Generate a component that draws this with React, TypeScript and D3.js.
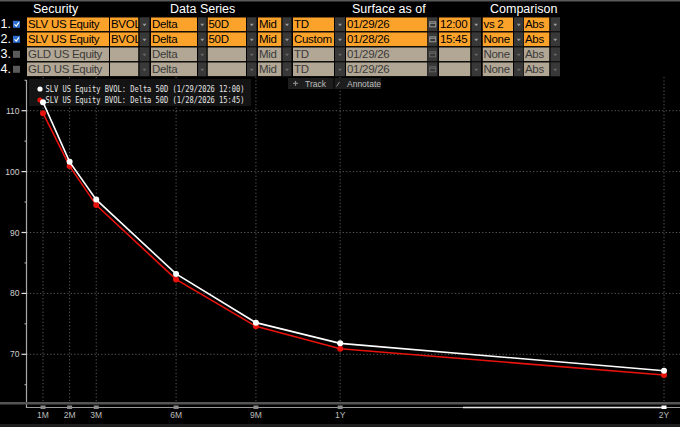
import React from 'react'
import * as d3 from 'd3'

// term structure, days to expiry for each tenor
const tenors = ['1M', '2M', '3M', '6M', '9M', '1Y', '2Y']
const tenorDays = [30, 60, 90, 180, 270, 365, 730]

// SLV BVOL delta 50D
const volJan29 = [111.4, 101.6, 95.4, 83.2, 75.2, 71.8, 67.3]
const volJan28 = [109.6, 100.9, 94.5, 82.3, 74.6, 70.9, 66.6]

const yTicks = [70, 80, 90, 100, 110]
const yMinorTicks = [65, 75, 85, 95, 105, 115]

const legendLabels = [
  'SLV US Equity BVOL: Delta 50D (1/29/2026 12:00)',
  'SLV US Equity BVOL: Delta 50D (1/28/2026 15:45)',
]

// header table
const headers = ['Security', 'Data Series', 'Surface as of', 'Comparison']
const rowSecurity = ['SLV US Equity', 'SLV US Equity', 'GLD US Equity', 'GLD US Equity']
const rowSource = ['BVOL', 'BVOL', '', '']
const rowType = ['Delta', 'Delta', 'Delta', 'Delta']
const rowPoint = ['50D', '50D', '', '']
const rowSide = ['Mid', 'Mid', 'Mid', 'Mid']
const rowMode = ['TD', 'Custom', 'TD', 'TD']
const rowDate = ['01/29/26', '01/28/26', '01/29/26', '01/29/26']
const rowTime = ['12:00', '15:45', '', '']
const rowCompare = ['vs 2', 'None', 'None', 'None']
const rowAbs = ['Abs', 'Abs', 'Abs', 'Abs']
const rowActive = [true, true, false, false]

const W = 680
const H = 427

const ORANGE = '#fba22b'
const TAN = '#b2a795'
const BTN = '#383838'
const FONT = 'Liberation Sans, Arial, sans-serif'

const x = d3.scaleLinear().domain([30, 730]).range([43, 664])
const y = d3.scaleLinear().domain([70, 110]).range([354.3, 110.7])

const plotTop = 77
const plotBottom = 402
const axisX = 26.5

function Cell({ x0, y0, w, text, active }: { x0: number; y0: number; w: number; text: string; active: boolean }) {
  return (
    <svg x={x0} y={y0} width={w} height={14} overflow="hidden">
      <rect width={w} height={14} fill={active ? ORANGE : TAN} />
      <text x={1} y={11} fontSize={11.5} letterSpacing={-0.3} fontFamily={FONT} fill={active ? '#000' : '#3a3a3a'}>{text}</text>
    </svg>
  )
}

function Drop({ x0, y0, w, active, cal }: { x0: number; y0: number; w: number; active: boolean; cal?: boolean }) {
  const cx = x0 + w / 2
  const c = active ? '#9a9a9a' : '#666'
  return (
    <g>
      <rect x={x0} y={y0} width={w} height={14} fill={BTN} />
      {cal ? (
        <g>
          <rect x={cx - 3} y={y0 + 4.5} width={6} height={5} fill="none" stroke={c} strokeWidth={1} />
          <line x1={cx - 3} x2={cx + 3} y1={y0 + 6} y2={y0 + 6} stroke={c} strokeWidth={1} />
        </g>
      ) : (
        <path d={`M${cx - 2},${y0 + 6.5}L${cx + 2},${y0 + 6.5}L${cx},${y0 + 9}Z`} fill={c} />
      )}
    </g>
  )
}

function HeaderTable() {
  const rowY = (i: number) => 17.3 + i * 15
  // [values, cell x, cell width, dropdown x, dropdown width, calendar icon]
  const cols: [string[], number, number, number, number, boolean?][] = [
    [rowSource, 110, 28.5, 139.5, 10],
    [rowType, 151, 46, 198, 8.5],
    [rowPoint, 207.5, 38.5, 247, 9.5],
    [rowSide, 258, 23.5, 282.5, 9],
    [rowMode, 293, 41, 335, 10],
    [rowDate, 346, 81.5, 428, 9.5, true],
    [rowTime, 439, 31.5, 471.5, 9.5],
    [rowCompare, 482.5, 30.5, 514, 9.5],
    [rowAbs, 524, 25.5, 550.5, 9.5],
  ]
  return (
    <g>
      <rect x={0} y={0} width={W} height={1.5} fill="#5a5a5a" />
      <g fontFamily={FONT} fontSize={12.5} fill="#fff">
        <text x={33} y={13}>{headers[0]}</text>
        <text x={170} y={13}>{headers[1]}</text>
        <text x={352} y={13}>{headers[2]}</text>
        <text x={490} y={13}>{headers[3]}</text>
      </g>
      {rowSecurity.map((s, i) => {
        const y0 = rowY(i)
        const act = rowActive[i]
        return (
          <g key={i}>
            <text x={0.5} y={y0 + 11} fontSize={12.5} fontFamily={FONT} fill="#fff">{`${i + 1}.`}</text>
            <rect x={13} y={y0 + 3.5} width={7} height={7} fill={act ? '#2e6fd0' : '#5a5a5a'} />
            {act && (
              <path d={`M14.5,${y0 + 7}L16.3,${y0 + 8.8}L19,${y0 + 5}`} fill="none" stroke="#fff" strokeWidth={1.2} />
            )}
            <Cell x0={27} y0={y0} w={82} text={s} active={act} />
            {cols.map(([vals, cx, cw, dx, dw, cal], j) => (
              <g key={j}>
                <Cell x0={cx} y0={y0} w={cw} text={vals[i]} active={act} />
                <Drop x0={dx} y0={y0} w={dw} active={act} cal={cal} />
              </g>
            ))}
          </g>
        )
      })}
    </g>
  )
}

function Chart() {
  const line = d3
    .line<number>()
    .x((_, i) => x(tenorDays[i]))
    .y((d) => y(d))

  const series = [
    { vals: volJan28, color: '#e8120c' },
    { vals: volJan29, color: '#ffffff' },
  ]

  return (
    <g>
      {/* grid */}
      {yTicks.map((t) => (
        <line key={t} x1={axisX} x2={W} y1={y(t)} y2={y(t)} stroke="#5c5c5c" strokeDasharray="1.2,2.2" strokeWidth={1} />
      ))}
      {tenorDays.map((d) => (
        <line key={d} x1={x(d)} x2={x(d)} y1={plotTop} y2={plotBottom} stroke="#5c5c5c" strokeDasharray="1.2,2.2" strokeWidth={1} />
      ))}

      {/* y axis */}
      <line x1={axisX} x2={axisX} y1={plotTop + 3} y2={408} stroke="#a8a8a8" strokeWidth={1.2} />
      {yTicks.map((t) => (
        <g key={t}>
          <line x1={21.5} x2={axisX} y1={y(t)} y2={y(t)} stroke="#e0e0e0" strokeWidth={1.2} />
          <text x={19.5} y={y(t) + 3} textAnchor="end" fontSize={8.5} fontFamily={FONT} fill="#d0d0d0">{t}</text>
        </g>
      ))}
      {yMinorTicks.map((t) => (
        <line key={t} x1={24.5} x2={axisX} y1={y(t)} y2={y(t)} stroke="#bbb" strokeWidth={1} />
      ))}

      {/* legend box */}
      <rect x={29} y={79} width={222} height={27} fill="#141414" />
      {legendLabels.map((l, i) => (
        <g key={l}>
          <circle cx={40} cy={89 + i * 11} r={2.6} fill={i === 0 ? '#fff' : '#e8120c'} />
          <text x={45.5} y={92 + i * 11} fontSize={9} fontFamily="DejaVu Sans Mono, monospace" fill="#e6e6e6" textLength={199} lengthAdjust="spacingAndGlyphs">{l}</text>
        </g>
      ))}

      {/* toolbar */}
      <rect x={288} y={78} width={93} height={11} fill="#1d1d1d" />
      <line x1={334} x2={334} y1={78} y2={89} stroke="#000" strokeWidth={1} />
      <g fill="#8a8a8a">
        <rect x={293} y={82.8} width={5} height={1.2} />
        <rect x={294.9} y={80.9} width={1.2} height={5} />
      </g>
      <line x1={336.5} x2={339.5} y1={86.5} y2={82} stroke="#8a8a8a" strokeWidth={1} />
      <text x={305} y={86.5} fontSize={8.5} fontFamily={FONT} fill="#bdbdbd">Track</text>
      <text x={347} y={86.5} fontSize={8.5} fontFamily={FONT} fill="#bdbdbd">Annotate</text>

      {/* series */}
      {series.map((s) => (
        <g key={s.color}>
          <path d={line(s.vals) ?? ''} fill="none" stroke={s.color} strokeWidth={1.6} />
          {s.vals.map((v, i) => (
            <circle key={i} cx={x(tenorDays[i])} cy={y(v)} r={3} fill={s.color} />
          ))}
        </g>
      ))}

      {/* x axis / scroller */}
      <rect x={0} y={402} width={W} height={2.5} fill="#555" />
      <line x1={axisX} x2={W} y1={407.5} y2={407.5} stroke="#9a9a9a" strokeWidth={1} />
      <line x1={463} x2={664} y1={407.5} y2={407.5} stroke="#e6e6e6" strokeWidth={1.5} />
      {tenorDays.map((d, i) => (
        <g key={d}>
          <rect x={x(d) - 2.5} y={405.5} width={5} height={3.5} fill={i === tenorDays.length - 1 ? '#fff' : '#8a8a8a'} />
          <text x={x(d)} y={417.5} textAnchor="middle" fontSize={8.5} fontFamily={FONT} fill="#bdbdbd">{tenors[i]}</text>
        </g>
      ))}
      <rect x={0} y={424} width={W} height={3} fill="#1e1e1e" />
    </g>
  )
}

export default function App() {
  return (
    <div style={{ position: 'fixed', left: 0, top: 0, width: W, height: H, background: '#000' }}>
      <svg width={W} height={H} style={{ display: 'block', background: '#000' }}>
        <HeaderTable />
        <Chart />
      </svg>
    </div>
  )
}
